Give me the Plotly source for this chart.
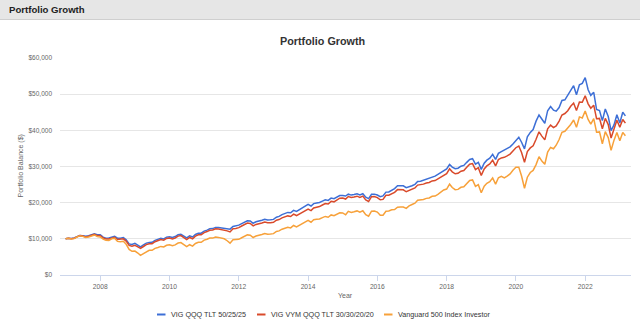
import pandas as pd
import plotly.graph_objects as go

# Monthly balances of a $10,000 start, Jan 2007 - Mar 2023
months = pd.date_range("2007-01-01", "2023-03-01", freq="MS")

series_names = [
    "VIG QQQ TLT 50/25/25",
    "VIG VYM QQQ TLT 30/30/20/20",
    "Vanguard 500 Index Investor",
]

vig_qqq_tlt = [
    10000,
    10167, 10088, 10229, 10607, 10931, 10866, 10694, 10873, 11219, 11415, 11141, 11154,
    10485, 10181, 10257, 10560, 10702, 10188, 10178, 10382, 9733, 8599, 8449, 8778,
    8250, 7800, 8350, 8820, 8980, 9040, 9580, 9820, 10180, 9980, 10470, 10600,
    10366, 10629, 11106, 11270, 10656, 10292, 10829, 10514, 11197, 11533, 11573, 12148,
    12410, 12764, 12827, 13157, 13120, 13026, 12906, 12804, 12676, 13419, 13543, 13791,
    14226, 14656, 14997, 14943, 14308, 14721, 14873, 15118, 15400, 15202, 15272, 15376,
    15986, 16201, 16688, 16970, 17305, 17210, 17881, 17579, 18022, 18660, 19118, 19521,
    19087, 19744, 19905, 20055, 20428, 20781, 20629, 21253, 21099, 21505, 21965, 21976,
    21832, 22345, 22091, 22242, 22441, 22138, 22459, 21492, 21111, 22312, 22358, 22103,
    21661, 21857, 22921, 22980, 23379, 23894, 24682, 24694, 24657, 24124, 24305, 24668,
    25068, 25838, 25934, 26194, 26528, 26719, 27189, 27329, 27809, 28340, 29034, 29345,
    30565, 29836, 29381, 29533, 30097, 30297, 31147, 31935, 32148, 30653, 31154, 29196,
    30922, 31747, 32311, 33351, 31965, 33644, 34123, 34575, 34942, 35424, 36215, 37131,
    38100, 36707, 34882, 38214, 39437, 40205, 42536, 44238, 43198, 41946, 45428, 46587,
    45558, 45283, 46298, 48247, 48434, 49658, 51265, 52340, 49840, 52576, 52977, 54562,
    51206, 49670, 50502, 45755, 45458, 42685, 45897, 43820, 39920, 41517, 44288, 42007,
    45000, 44000,
]

vig_vym_qqq_tlt = [
    10000,
    10156, 10032, 10156, 10549, 10882, 10771, 10540, 10704, 11058, 11239, 10896, 10874,
    10270, 9952, 9982, 10317, 10446, 9824, 9824, 10006, 9366, 8176, 7943, 8209,
    7750, 7350, 7880, 8400, 8620, 8650, 9200, 9480, 9830, 9640, 10120, 10250,
    9972, 10242, 10751, 10912, 10223, 9811, 10378, 10021, 10748, 11096, 11121, 11733,
    12005, 12379, 12429, 12777, 12715, 12591, 12439, 12203, 11902, 12780, 12875, 13102,
    13555, 14003, 14355, 14273, 13564, 13991, 14133, 14378, 14660, 14422, 14477, 14566,
    15167, 15338, 15803, 16044, 16341, 16172, 16828, 16437, 16843, 17459, 17877, 18236,
    17802, 18534, 18738, 18930, 19364, 19777, 19643, 20360, 20223, 20702, 21244, 21290,
    20999, 21697, 21411, 21575, 21793, 21453, 21804, 20738, 20314, 21647, 21692, 21408,
    20783, 20904, 22037, 22078, 22454, 22838, 23617, 23605, 23549, 23014, 23328, 23693,
    24072, 24858, 24902, 25122, 25424, 25570, 26021, 26107, 26568, 27077, 27770, 28038,
    29347, 28518, 27990, 28125, 28707, 28892, 29786, 30618, 30813, 29159, 29672, 27536,
    29341, 30163, 30697, 31750, 30178, 31923, 32361, 32544, 32938, 33434, 34287, 35192,
    35661, 33878, 31166, 34147, 35140, 35710, 37539, 39597, 38407, 37370, 40424, 41432,
    40752, 41207, 42548, 44243, 44652, 45423, 46655, 47531, 45457, 47799, 47764, 49532,
    47318, 46111, 46959, 43216, 43294, 40445, 43304, 41585, 37855, 40202, 42791, 40835,
    43000, 42000,
]

vanguard_500 = [
    10000,
    10150, 9951, 10060, 10505, 10873, 10688, 10357, 10512, 10901, 11075, 10610, 10536,
    9904, 9582, 9544, 10012, 10142, 9290, 9211, 9331, 8500, 7072, 6563, 6629,
    6072, 5422, 5899, 6465, 6827, 6841, 7361, 7626, 7908, 7758, 8223, 8380,
    8078, 8329, 8829, 8970, 8252, 7823, 8371, 7994, 8706, 9036, 9036, 9641,
    9872, 10208, 10208, 10514, 10398, 10221, 10017, 9476, 8813, 9773, 9754, 9851,
    10294, 10737, 11091, 11025, 10363, 10788, 10939, 11191, 11482, 11264, 11331, 11433,
    12028, 12196, 12660, 12900, 13197, 13025, 13690, 13293, 13705, 14335, 14765, 15134,
    14604, 15276, 15398, 15506, 15863, 16196, 15969, 16608, 16375, 16768, 17221, 17169,
    16654, 17603, 17321, 17494, 17722, 17385, 17750, 16685, 16268, 17635, 17688, 17405,
    16535, 16518, 17641, 17712, 18031, 18085, 18754, 18773, 18773, 18435, 19117, 19500,
    19870, 20665, 20686, 20893, 21185, 21312, 21760, 21825, 22283, 22796, 23502, 23761,
    25115, 24186, 23582, 23676, 24244, 24390, 25292, 26127, 26284, 24497, 24987, 22738,
    24557, 25343, 25824, 26857, 25138, 26898, 27274, 26838, 27348, 27950, 28956, 29824,
    29812, 27367, 23974, 27043, 28341, 28908, 30527, 32725, 31481, 30631, 33970, 35261,
    34908, 35885, 37464, 39450, 39726, 40640, 41615, 42863, 40849, 43708, 43402, 45355,
    42997, 41707, 43250, 39487, 39566, 36282, 39620, 37996, 34500, 37294, 39383, 37098,
    39435, 38489,
]

series_values = [vig_qqq_tlt, vig_vym_qqq_tlt, vanguard_500]
series_colors = ["#3d6fd6", "#d94a2b", "#f7a13a"]

# page / plot-area geometry in pixels
W, H = 640, 325
L, R, T, B = 60, 9, 58, 50
PW, PH = W - L - R, H - T - B


def px(x):
    return (x - L) / PW


def py(y):
    return (H - B - y) / PH


FONT = "Liberation Sans, Arial, Helvetica, sans-serif"

fig = go.Figure()
for name, vals, col in zip(series_names, series_values, series_colors):
    fig.add_trace(go.Scatter(
        x=months, y=vals, mode="lines", name=name,
        line=dict(color=col, width=1.5),
        showlegend=False,
    ))

shapes = []
annotations = []

# header bar
shapes.append(dict(type="rect", xref="paper", yref="paper",
                   x0=px(0), x1=px(W), y0=py(19), y1=py(0),
                   fillcolor="#e6e6e6", line=dict(width=0), layer="below"))
shapes.append(dict(type="line", xref="paper", yref="paper",
                   x0=px(0), x1=px(W), y0=py(19.5), y1=py(19.5),
                   line=dict(color="#cfcfcf", width=1)))
annotations.append(dict(text="<b>Portfolio Growth</b>", xref="paper", yref="paper",
                        x=px(7), y=py(9.5), xanchor="left", yanchor="middle",
                        showarrow=False, font=dict(family=FONT, size=9.6, color="#222222")))

# chart title
annotations.append(dict(text="<b>Portfolio Growth</b>", xref="paper", yref="paper",
                        x=px(322), y=py(41), xanchor="center", yanchor="middle",
                        showarrow=False, font=dict(family=FONT, size=10.8, color="#333333")))

# axis titles
annotations.append(dict(text="Portfolio Balance ($)", xref="paper", yref="paper",
                        x=px(20), y=0.5, xanchor="center", yanchor="middle", textangle=-90,
                        showarrow=False, font=dict(family=FONT, size=7, color="#666666")))
annotations.append(dict(text="Year", xref="paper", yref="paper",
                        x=0.5, y=py(295), xanchor="center", yanchor="middle",
                        showarrow=False, font=dict(family=FONT, size=7, color="#666666")))

# legend
legend_pos = [(157, 169), (257, 269), (384, 396)]
for (lx, tx), name, col in zip(legend_pos, series_names, series_colors):
    shapes.append(dict(type="line", xref="paper", yref="paper",
                       x0=px(lx), x1=px(lx + 8.5), y0=py(314.5), y1=py(314.5),
                       line=dict(color=col, width=2)))
    annotations.append(dict(text=name, xref="paper", yref="paper",
                            x=px(tx), y=py(314.5), xanchor="left", yanchor="middle",
                            showarrow=False, font=dict(family=FONT, size=7.2, color="#333333")))

fig.update_layout(
    width=W, height=H,
    margin=dict(l=L, r=R, t=T, b=B, pad=0),
    paper_bgcolor="white", plot_bgcolor="white",
    font=dict(family=FONT, color="#666666"),
    shapes=shapes, annotations=annotations,
    hovermode=False,
)

fig.update_xaxes(
    type="date",
    range=["2006-11-03", "2023-04-29"],
    tick0="2008-01-01", dtick="M24", tickformat="%Y",
    showgrid=False, zeroline=False,
    showline=True, linecolor="#ccd6eb", linewidth=1,
    ticks="outside", ticklen=5, tickcolor="#ccd6eb", tickwidth=1,
    tickfont=dict(family=FONT, size=6.7, color="#666666"),
)

fig.update_yaxes(
    range=[0, 60000], dtick=10000, tick0=0,
    tickprefix="$", tickformat=",.0f",
    showgrid=True, gridcolor="#e6e6e6", gridwidth=1,
    zeroline=False, showline=False, ticks="",
    ticklabelstandoff=7,
    tickfont=dict(family=FONT, size=6.5, color="#666666"),
)

fig.write_html("out.html")
